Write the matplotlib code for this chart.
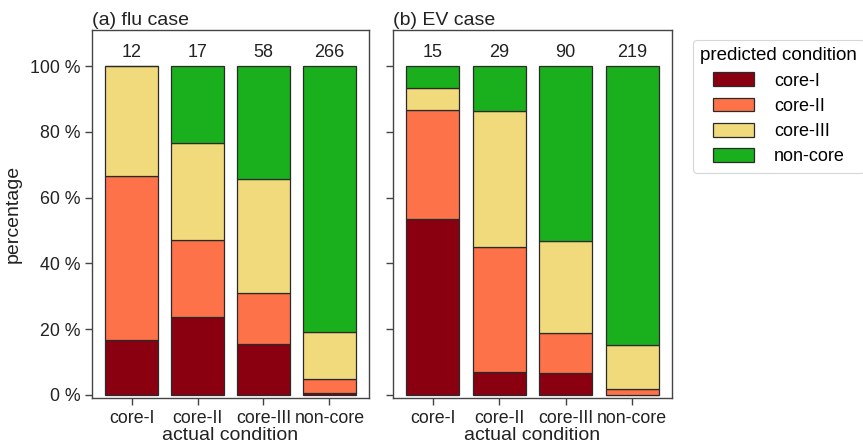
import matplotlib
matplotlib.use("Agg")
import matplotlib.pyplot as plt
import numpy as np

plt.rcParams["font.family"] = ["Liberation Sans", "DejaVu Sans"]

actual = ["core-I", "core-II", "core-III", "non-core"]
predicted = ["core-I", "core-II", "core-III", "non-core"]
colors = ["#8b0011", "#fe7249", "#f0da7b", "#1aaf1c"]

# counts per actual condition (rows) and predicted condition (columns)
flu_counts = np.array([
    [2, 6, 4, 0],
    [4, 4, 5, 4],
    [9, 9, 20, 20],
    [1, 12, 38, 215],
])
ev_counts = np.array([
    [8, 5, 1, 1],
    [2, 11, 12, 4],
    [6, 11, 25, 48],
    [0, 4, 29, 186],
])
panels = [("(a) flu case", flu_counts), ("(b) EV case", ev_counts)]

fig = plt.figure(figsize=(8.63, 4.48), dpi=100)
W, H = 863, 448
ax1 = fig.add_axes([92 / W, 1 - 398 / H, 277 / W, 368 / H])
ax2 = fig.add_axes([393 / W, 1 - 398 / H, 279 / W, 368 / H], sharey=ax1)

x = np.arange(len(actual))
for ax, (title, counts) in zip([ax1, ax2], panels):
    totals = counts.sum(axis=1)
    pct = counts / totals[:, None] * 100
    bottom = np.zeros(len(actual))
    handles = []
    for j, name in enumerate(predicted):
        h = ax.bar(x, pct[:, j], bottom=bottom, width=0.8, color=colors[j],
                   edgecolor="#2a2a2a", linewidth=0.9, label=name)
        handles.append(h)
        bottom += pct[:, j]
    for xi, n in zip(x, totals):
        ax.text(xi, 101.6, str(n), ha="center", va="bottom", fontsize=13, color="#222222")
    ax.set_xticks(x)
    ax.set_xticklabels(actual)
    ax.set_xlim(-0.6, 3.6)
    ax.set_ylim(-1, 111)
    ax.set_xlabel("actual condition", fontsize=14, color="#222222", labelpad=0)
    ax.text(0.0, 1.004, title, transform=ax.transAxes, ha="left", va="bottom",
            fontsize=14, color="#222222")
    for s in ax.spines.values():
        s.set_color("#444444")
        s.set_linewidth(1.0)
    ax.tick_params(axis="both", colors="#444444", labelcolor="#222222",
                   length=5, width=1.0, labelsize=12.8)

ax1.set_yticks([0, 20, 40, 60, 80, 100])
ax1.set_yticklabels([f"{v} %" for v in [0, 20, 40, 60, 80, 100]])
ax1.set_ylabel("percentage", fontsize=14, color="#222222", labelpad=6)
plt.setp(ax2.get_yticklabels(), visible=False)

leg = fig.legend(handles=handles, labels=predicted, title="predicted condition",
                 loc="upper left", bbox_to_anchor=(693 / W, 1 - 40 / H),
                 fontsize=13, title_fontsize=13.5, frameon=True,
                 handlelength=2.3, handleheight=0.8, borderpad=0.4,
                 labelspacing=0.45, handletextpad=1.1, borderaxespad=0)
leg.get_frame().set_edgecolor("#cccccc")
leg.get_frame().set_linewidth(0.8)

fig.savefig("out.png", dpi=100)
